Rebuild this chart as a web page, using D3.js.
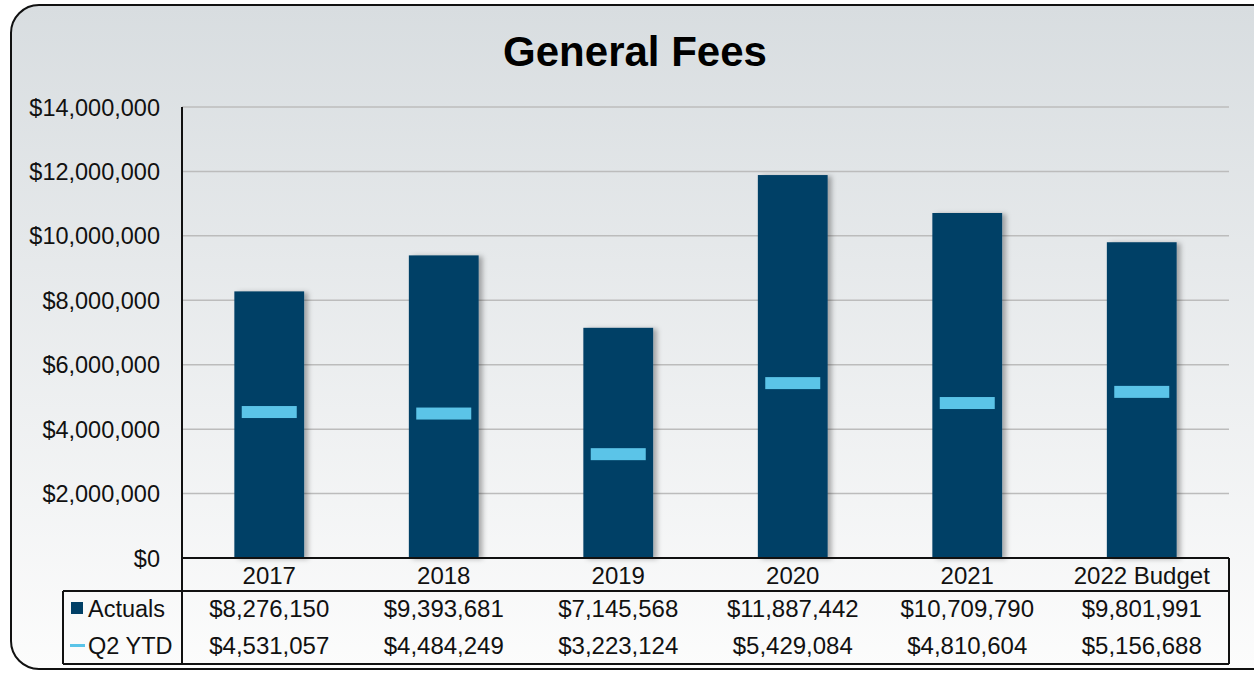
<!DOCTYPE html>
<html>
<head>
<meta charset="utf-8">
<script src="https://cdn.jsdelivr.net/npm/d3@7"></script>
<style>
  body { margin: 0; background: #fff; }
  svg { display: block; font-family: "Liberation Sans", Arial, sans-serif; }
</style>
</head>
<body>
<div id="chart"></div>
<script>
var categories = ["2017", "2018", "2019", "2020", "2021", "2022 Budget"];
var actuals = [8276150, 9393681, 7145568, 11887442, 10709790, 9801991];
var q2ytd = [4531057, 4484249, 3223124, 5429084, 4810604, 5156688];
var yTicks = [0, 2000000, 4000000, 6000000, 8000000, 10000000, 12000000, 14000000];

var fullwidth = 1254, fullheight = 673;
var plot = {left: 182, right: 1229, top: 107, bottom: 558};

var svg = d3.select("#chart").append("svg")
    .attr("width", fullwidth)
    .attr("height", fullheight);

var defs = svg.append("defs");
var grad = defs.append("linearGradient")
    .attr("id", "bg").attr("x1", 0).attr("y1", 0).attr("x2", 0).attr("y2", 1);
grad.append("stop").attr("offset", "0%").attr("stop-color", "#d8dde0");
grad.append("stop").attr("offset", "100%").attr("stop-color", "#fcfcfc");

var shadow = defs.append("filter").attr("id", "shadow")
    .attr("x", "-20%").attr("y", "-5%").attr("width", "150%").attr("height", "110%");
shadow.append("feDropShadow")
    .attr("dx", 4).attr("dy", 1).attr("stdDeviation", 2.5)
    .attr("flood-color", "#000").attr("flood-opacity", 0.3);

// background panel
svg.append("rect")
    .attr("x", 11).attr("y", 5)
    .attr("width", 1270).attr("height", 664)
    .attr("rx", 28).attr("ry", 28)
    .attr("fill", "url(#bg)")
    .attr("stroke", "#111").attr("stroke-width", 2);

svg.append("text")
    .attr("x", 635).attr("y", 66)
    .attr("text-anchor", "middle")
    .attr("font-size", 42).attr("font-weight", "bold")
    .text("General Fees");

var y = d3.scaleLinear()
    .domain([0, 14000000])
    .range([plot.bottom, plot.top]);

var x = d3.scaleBand()
    .domain(categories)
    .range([plot.left, plot.right])
    .paddingInner(0.6)
    .paddingOuter(0.3);

var xCol = d3.scaleBand()
    .domain(categories)
    .range([plot.left, plot.right]);

// gridlines
svg.append("g").selectAll("line")
    .data(yTicks.filter(function(d) { return d > 0; }))
    .enter().append("line")
    .attr("x1", plot.left).attr("x2", plot.right)
    .attr("y1", function(d) { return y(d); })
    .attr("y2", function(d) { return y(d); })
    .attr("stroke", "#bcbcbc").attr("stroke-width", 1.5);

// y axis labels
var fmt = d3.format("$,");
svg.append("g").selectAll("text")
    .data(yTicks)
    .enter().append("text")
    .attr("x", 160)
    .attr("y", function(d) { return y(d) + 8.5; })
    .attr("text-anchor", "end")
    .attr("font-size", 23.5)
    .attr("fill", "#111")
    .text(function(d) { return fmt(d); });

// bars
svg.append("g").selectAll("rect")
    .data(actuals)
    .enter().append("rect")
    .attr("x", function(d, i) { return x(categories[i]); })
    .attr("width", x.bandwidth())
    .attr("y", function(d) { return y(d); })
    .attr("height", function(d) { return y(0) - y(d); })
    .attr("fill", "#003f66")
    .attr("filter", "url(#shadow)");

// Q2 YTD markers
var markW = 55, markH = 12;
svg.append("g").selectAll("rect")
    .data(q2ytd)
    .enter().append("rect")
    .attr("x", function(d, i) { return x(categories[i]) + x.bandwidth() / 2 - markW / 2; })
    .attr("width", markW)
    .attr("y", function(d) { return y(d) - markH / 2; })
    .attr("height", markH)
    .attr("fill", "#5bc4e8");

// axis + data table
var tbl = svg.append("g").attr("stroke", "#111").attr("stroke-width", 2).attr("fill", "none");
tbl.append("line").attr("x1", plot.left).attr("x2", plot.left).attr("y1", plot.top).attr("y2", 664);
tbl.append("line").attr("x1", plot.left).attr("x2", plot.right).attr("y1", plot.bottom).attr("y2", plot.bottom);
tbl.append("line").attr("x1", plot.right).attr("x2", plot.right).attr("y1", plot.bottom).attr("y2", 664);
tbl.append("line").attr("x1", 63).attr("x2", plot.right).attr("y1", 591).attr("y2", 591);
tbl.append("line").attr("x1", 63).attr("x2", plot.right).attr("y1", 664).attr("y2", 664);
tbl.append("line").attr("x1", 63).attr("x2", 63).attr("y1", 591).attr("y2", 664);

var mid = function(c) { return xCol(c) + xCol.bandwidth() / 2; };

svg.append("g").selectAll("text")
    .data(categories)
    .enter().append("text")
    .attr("x", function(d) { return mid(d); })
    .attr("y", 584)
    .attr("text-anchor", "middle")
    .attr("font-size", 24)
    .attr("fill", "#111")
    .text(function(d) { return d; });

var rows = [
  {name: "Actuals", values: actuals, y: 617},
  {name: "Q2 YTD", values: q2ytd, y: 654}
];

rows.forEach(function(r) {
  svg.append("g").selectAll("text")
      .data(r.values)
      .enter().append("text")
      .attr("x", function(d, i) { return mid(categories[i]); })
      .attr("y", r.y)
      .attr("text-anchor", "middle")
      .attr("font-size", 24)
      .attr("fill", "#111")
      .text(function(d) { return fmt(d); });
  svg.append("text")
      .attr("x", 88).attr("y", r.y)
      .attr("font-size", 23.5)
      .attr("fill", "#111")
      .text(r.name);
});

// legend keys
svg.append("rect").attr("x", 71).attr("y", 602).attr("width", 12).attr("height", 12).attr("fill", "#003f66");
svg.append("rect").attr("x", 70).attr("y", 644).attr("width", 15).attr("height", 3).attr("fill", "#5bc4e8");
</script>
</body>
</html>
